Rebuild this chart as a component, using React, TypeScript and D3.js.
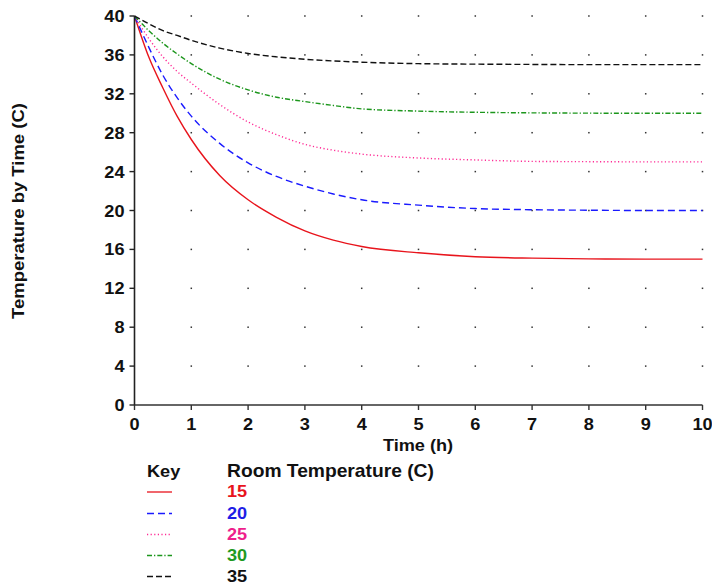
import React from "react";
import * as d3 from "d3";

const times = [0, 0.25, 0.5, 0.75, 1, 1.5, 2, 2.5, 3, 3.5, 4, 5, 6, 7, 8, 9, 10];
const room15 = [40, 35.8, 32.6, 29.7, 27.3, 23.6, 21.1, 19.3, 17.9, 16.95, 16.3, 15.65, 15.25, 15.1, 15.03, 15.0, 15.0];
const room20 = [40, 36.8, 33.9, 31.6, 29.7, 26.9, 24.9, 23.5, 22.5, 21.7, 21.1, 20.55, 20.2, 20.08, 20.03, 20.0, 20.0];
const room25 = [40, 37.7, 35.8, 34.3, 33.1, 30.9, 29.1, 27.8, 26.8, 26.2, 25.8, 25.4, 25.2, 25.05, 25.02, 25.0, 25.0];
const room30 = [40, 38.5, 37.2, 36.1, 35.1, 33.5, 32.4, 31.65, 31.2, 30.8, 30.45, 30.22, 30.1, 30.04, 30.01, 30.0, 30.0];
const room35 = [40, 39.2, 38.5, 38.0, 37.5, 36.7, 36.15, 35.8, 35.55, 35.38, 35.25, 35.1, 35.05, 35.02, 35.0, 35.0, 35.0];

const seriesLabels = ["15", "20", "25", "30", "35"];
const seriesValues = [room15, room20, room25, room30, room35];
const seriesColors = ["#e8141c", "#1a1aff", "#ff2a95", "#1c961c", "#111111"];
const labelColors = ["#e8141c", "#1e1ee6", "#ee1f8c", "#1f9a1f", "#111111"];
const seriesDash = ["", "7,4", "1.2,2.4", "5,2,1.3,2", "6,3"];

const xTicks = [0, 1, 2, 3, 4, 5, 6, 7, 8, 9, 10];
const yTicks = [0, 4, 8, 12, 16, 20, 24, 28, 32, 36, 40];

const FONT = "'Liberation Sans', Arial, sans-serif";
const SX = 1.1;

function T(props: {
  x: number;
  y: number;
  size: number;
  anchor?: string;
  fill?: string;
  rotate?: boolean;
  children: React.ReactNode;
}) {
  const { x, y, size, anchor, fill, rotate, children } = props;
  return (
    <text
      transform={`translate(${x},${y})${rotate ? " rotate(-90)" : ""} scale(${SX},1)`}
      textAnchor={anchor || "start"}
      fontSize={size}
      fill={fill || "#111"}
    >
      {children}
    </text>
  );
}

export default function App() {
  const x = d3.scaleLinear().domain([0, 10]).range([134.5, 702.5]);
  const y = d3.scaleLinear().domain([0, 40]).range([405, 16]);
  const line = d3
    .line<[number, number]>()
    .x((d) => x(d[0]))
    .y((d) => y(d[1]))
    .curve(d3.curveMonotoneX);

  const dots: [number, number][] = [];
  xTicks.slice(1).forEach((t) => yTicks.slice(1).forEach((v) => dots.push([t, v])));

  const legendX0 = 147;
  const legendX1 = 172;
  const legendBase = [497, 518.5, 539.5, 560.5, 581.5];

  return (
    <svg
      width={712}
      height={586}
      style={{ position: "absolute", left: 0, top: 0, background: "#fff" }}
      fontFamily={FONT}
      fontWeight="bold"
    >
      <rect width={712} height={586} fill="#fff" />
      {dots.map(([t, v], i) => (
        <rect key={i} x={x(t) - 0.75} y={y(v) - 0.75} width={1.5} height={1.5} fill="#333" />
      ))}
      {seriesValues.map((vals, i) => (
        <path
          key={i}
          d={line(times.map((t, j) => [t, vals[j]] as [number, number])) || ""}
          fill="none"
          stroke={seriesColors[i]}
          strokeWidth={1.4}
          strokeDasharray={seriesDash[i] || undefined}
        />
      ))}
      <line x1={x(0)} x2={x(10)} y1={y(0)} y2={y(0)} stroke="#333" strokeWidth={1.6} />
      <line x1={x(0)} x2={x(0)} y1={y(0)} y2={y(40)} stroke="#222" strokeWidth={1.6} />
      {xTicks.map((t) => (
        <g key={"xt" + t}>
          <line x1={x(t)} x2={x(t)} y1={y(0)} y2={y(0) + 5} stroke="#333" strokeWidth={1.4} />
          <T x={x(t)} y={430} anchor="middle" size={16.5}>
            {t}
          </T>
        </g>
      ))}
      {yTicks.map((v) => (
        <g key={"yt" + v}>
          <line x1={x(0) - 5} x2={x(0)} y1={y(v)} y2={y(v)} stroke="#222" strokeWidth={1.4} />
          <T x={124.5} y={y(v) + 6} anchor="end" size={16.5}>
            {v}
          </T>
        </g>
      ))}
      <T x={418} y={451} anchor="middle" size={16.5}>
        Time (h)
      </T>
      <T x={24} y={211} anchor="middle" size={16.8} rotate>
        Temperature by Time (C)
      </T>
      <T x={147} y={477} size={16.5}>
        Key
      </T>
      <T x={227} y={477} size={17.5}>
        Room Temperature (C)
      </T>
      {seriesLabels.map((lab, i) => (
        <g key={"lg" + i}>
          <line
            x1={legendX0}
            x2={legendX1}
            y1={legendBase[i] - 5}
            y2={legendBase[i] - 5}
            stroke={seriesColors[i]}
            strokeWidth={1.3}
            strokeDasharray={seriesDash[i] || undefined}
          />
          <T x={227} y={legendBase[i]} size={16.5} fill={labelColors[i]}>
            {lab}
          </T>
        </g>
      ))}
    </svg>
  );
}
